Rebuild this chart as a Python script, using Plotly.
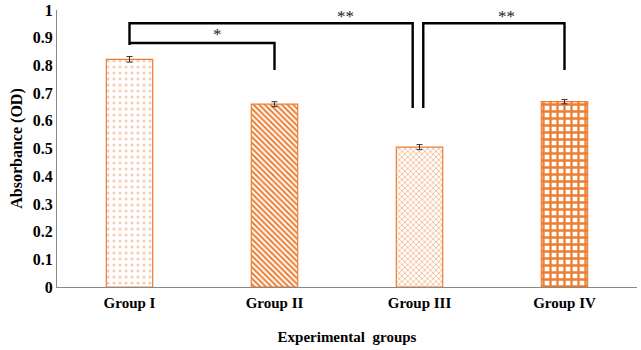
import plotly.graph_objects as go

categories = ["Group I", "Group II", "Group III", "Group IV"]
values = [0.822, 0.660, 0.505, 0.669]
errors = [0.010, 0.009, 0.009, 0.008]

# significance brackets: (x_left, x_right, top, left_bottom, right_bottom, label)
brackets = [
    (0, 2 - 0.047, 0.952, 0.874, 0.646, "**"),
    (0, 1, 0.881, 0.881, 0.783, "*"),
    (2 + 0.026, 3, 0.952, 0.646, 0.783, "**"),
]
label_pos = [(1.49, 0.978), (0.61, 0.912), (2.6, 0.978)]

orange = "#ED7D31"
font_fam = "Liberation Serif, Times New Roman, serif"

fig = go.Figure()
fig.add_trace(go.Bar(
    x=categories, y=values,
    error_y=dict(type="data", array=errors, color="#333333", thickness=1, width=3),
    marker=dict(
        color="white",
        line=dict(color=orange, width=1.2),
        pattern=dict(
            shape=[".", "\\", "x", "+"],
            fgcolor=["#F8CBAD", orange, "#F4B183", orange],
            bgcolor="white",
            size=[6, 4, 4, 7],
            solidity=[0.2, 0.5, 0.35, 0.55],
            fillmode="replace",
        ),
    ),
    width=0.32,
    hoverinfo="skip",
))

for (x0, x1, top, lb, rb, lab), (lx, ly) in zip(brackets, label_pos):
    fig.add_shape(type="path",
                  path=f"M {x0} {lb} L {x0} {top} L {x1} {top} L {x1} {rb}",
                  xref="x", yref="y", line=dict(color="black", width=2.4))
    fig.add_annotation(x=lx, y=ly, text=lab, showarrow=False, xref="x", yref="y",
                       font=dict(family=font_fam, size=17, color="#222"))

fig.update_layout(
    width=641, height=350,
    margin=dict(l=57, r=4, t=10, b=63, autoexpand=False),
    plot_bgcolor="white", paper_bgcolor="white",
    showlegend=False,
    font=dict(family=font_fam, size=15, color="black"),
    xaxis=dict(
        type="category", range=[-0.5, 3.5],
        showline=True, linecolor="#888888", linewidth=1.2,
        showgrid=False, ticks="", ticklabelstandoff=2,
        tickfont=dict(family=font_fam, size=15, color="black", weight="bold"),
        title=dict(text="<b>Experimental  groups</b>", font=dict(family=font_fam, size=15), standoff=21),
    ),
    yaxis=dict(
        range=[0, 1], dtick=0.1,
        showline=True, linecolor="#888888", linewidth=1.2,
        showgrid=False, ticks="", zeroline=False,
        ticklabeloverflow="allow",
        tickfont=dict(family=font_fam, size=16, color="black", weight="bold"),
        title=dict(text="<b>Absorbance (OD)</b>", font=dict(family=font_fam, size=16), standoff=6),
        tickformat="~g",
    ),
)

fig.write_html("out.html", config={"displayModeBar": False},
               post_script="document.body.style.margin='0';")
